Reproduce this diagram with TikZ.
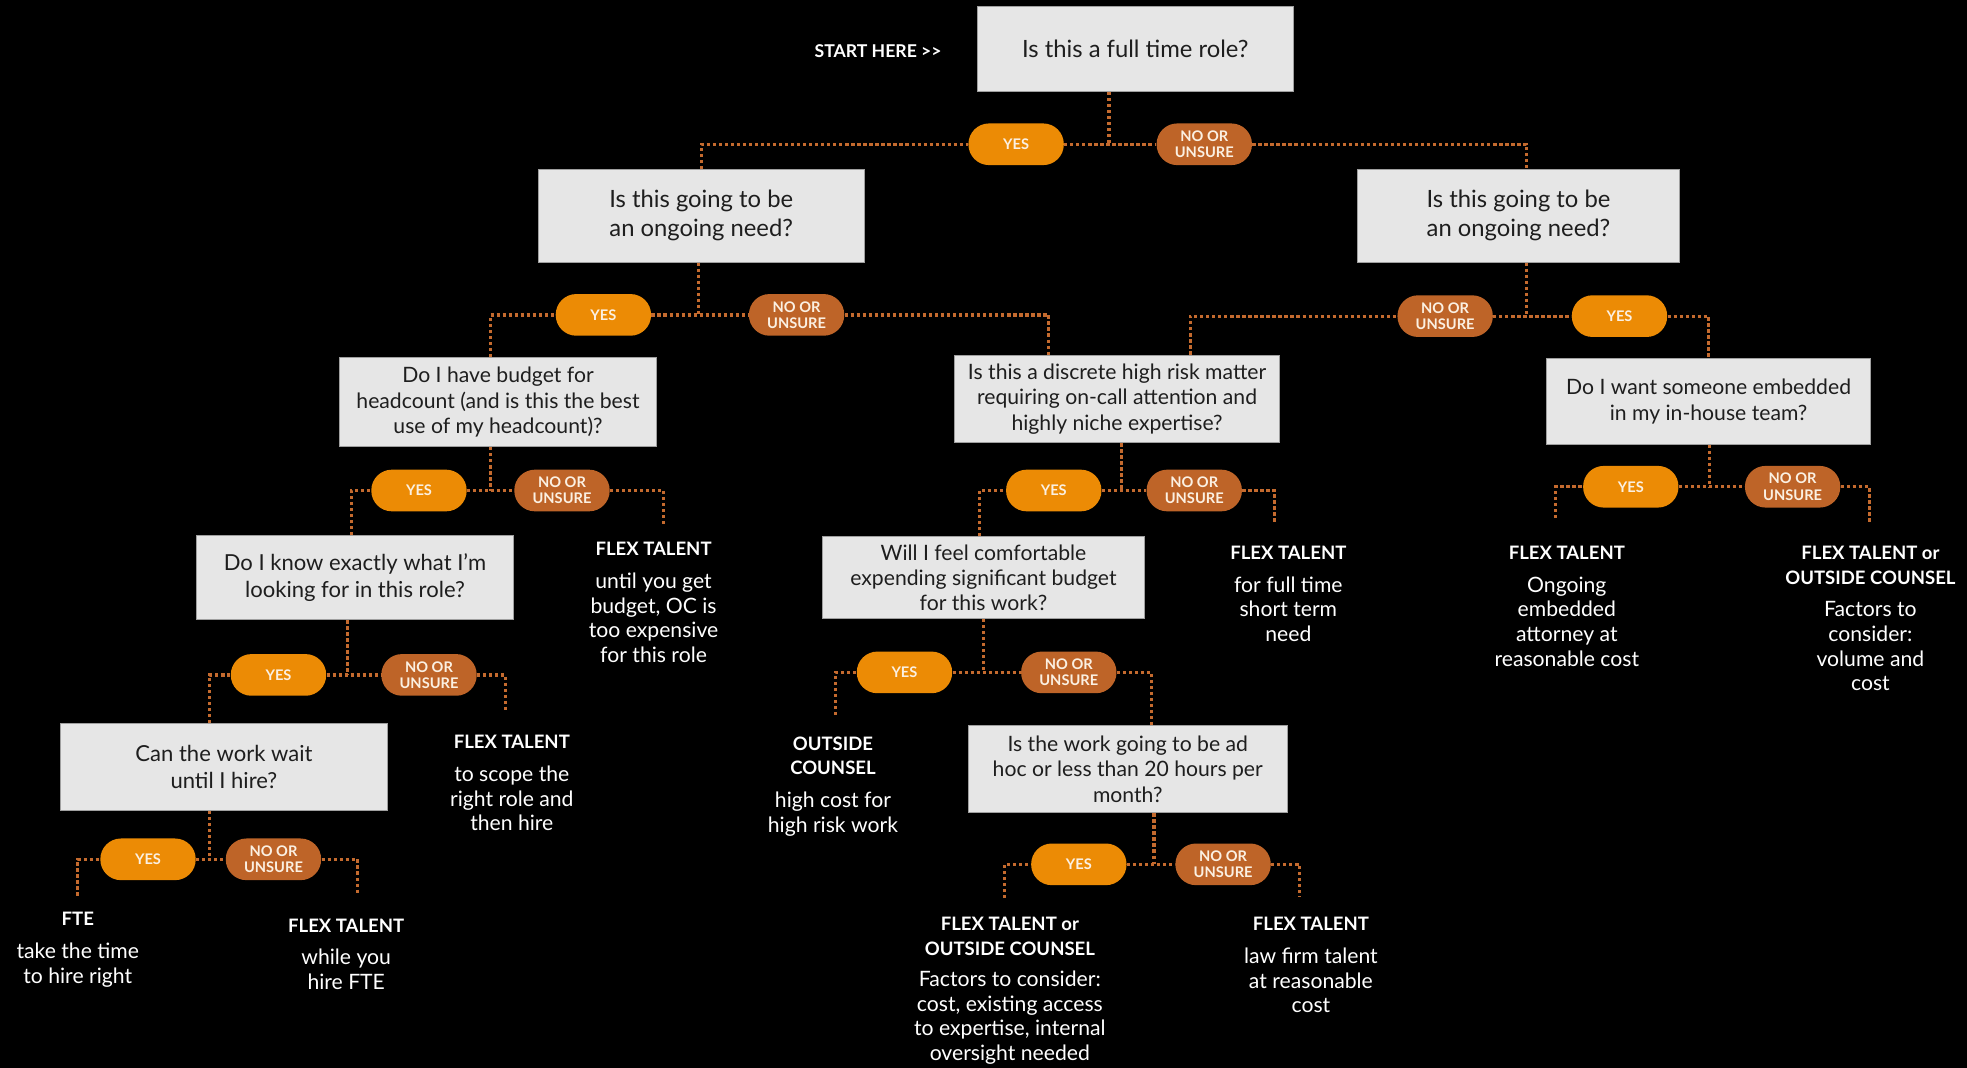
\documentclass[tikz,border=0pt]{standalone}
\usepackage{fontspec}
\setmainfont{Lato}
\usepackage{tikz}
\usetikzlibrary{positioning, calc}

\definecolor{yesorange}{HTML}{EC8B05}
\definecolor{nobrown}{HTML}{BE6428}
\definecolor{dotline}{HTML}{C46A2E}
\definecolor{boxgray}{HTML}{E6E6E6}
\definecolor{boxtext}{HTML}{1E1E1E}
\definecolor{pilltext}{HTML}{FBF0E2}

\newcommand{\hd}[1]{{\bfseries\fontsize{10.5}{14}\selectfont #1}}

\tikzset{
	question/.style={draw=gray!75, line width=0.5pt, fill=boxgray, text=boxtext, align=center, inner sep=0pt, font=\fontsize{12}{14.4}\selectfont},
	qbig/.style={question, font=\fontsize{13.5}{16.4}\selectfont},
	yespill/.style={fill=yesorange, rounded corners=0.41cm, minimum width=1.9cm, minimum height=0.83cm, inner sep=0pt, text=pilltext, align=center, font=\bfseries\fontsize{8.3}{9.2}\selectfont},
	nopill/.style={yespill, fill=nobrown},
	link/.style={dotline, line width=0.065cm, dash pattern=on 0.065cm off 0.055cm},
	outcome/.style={text=white, align=center, inner sep=0pt, anchor=north, font=\fontsize{12}{14}\selectfont}
}

\begin{document}
\begin{tikzpicture}[x=0.025cm, y=-0.025cm]
	\fill[black] (0,0) rectangle (1568,851);
	\useasboundingbox (0,0) rectangle (1568,851);

	\node[text=white, font=\bfseries\fontsize{10}{12}\selectfont] (start) at (700,41) {START HERE >{}>};

	% questions
	\node[qbig, minimum width=6.3cm, minimum height=1.7cm] (q1) at (905,39) {Is this a full time role?};
	\node[qbig, minimum width=6.5cm, minimum height=1.85cm] (q2a) at (559,172) {Is this going to be\\an ongoing need?};
	\node[qbig, minimum width=6.43cm, minimum height=1.85cm] (q2b) at (1210.5,172) {Is this going to be\\an ongoing need?};
	\node[question, minimum width=6.3cm, minimum height=1.78cm] (q3a) at (397,320.5) {Do I have budget for\\headcount (and is this the best\\use of my headcount)?};
	\node[question, minimum width=6.48cm, minimum height=1.75cm] (q3b) at (890.5,318) {Is this a discrete high risk matter\\requiring on-call attention and\\highly niche expertise?};
	\node[question, minimum width=6.45cm, minimum height=1.7cm] (q3c) at (1362,320) {Do I want someone embedded\\in my in-house team?};
	\node[question, font=\fontsize{12.5}{15}\selectfont, minimum width=6.3cm, minimum height=1.68cm] (q4a) at (283,460.5) {Do I know exactly what I'm\\looking for in this role?};
	\node[question, minimum width=6.4cm, minimum height=1.63cm] (q4b) at (784,460.5) {Will I feel comfortable\\expending significant budget\\for this work?};
	\node[question, font=\fontsize{12.5}{15}\selectfont, minimum width=6.53cm, minimum height=1.73cm] (q5a) at (178.5,611.5) {Can the work wait\\until I hire?};
	\node[question, minimum width=6.35cm, minimum height=1.75cm] (q5b) at (899,613) {Is the work going to be ad\\hoc or less than 20 hours per\\month?};

	% answer pills
	\node[yespill] (y1) at (810,115) {YES};
	\node[nopill] (n1) at (960,115) {NO OR\\UNSURE};
	\node[yespill] (y2a) at (481,251) {YES};
	\node[nopill] (n2a) at (635,251) {NO OR\\UNSURE};
	\node[nopill] (n2b) at (1152,252) {NO OR\\UNSURE};
	\node[yespill] (y2b) at (1291,252) {YES};
	\node[yespill] (y3a) at (334,391) {YES};
	\node[nopill] (n3a) at (448,391) {NO OR\\UNSURE};
	\node[yespill] (y3b) at (840,391) {YES};
	\node[nopill] (n3b) at (952,391) {NO OR\\UNSURE};
	\node[yespill] (y3c) at (1300,388) {YES};
	\node[nopill] (n3c) at (1429,388) {NO OR\\UNSURE};
	\node[yespill] (y4a) at (222,538) {YES};
	\node[nopill] (n4a) at (342,538) {NO OR\\UNSURE};
	\node[yespill] (y4b) at (721,536) {YES};
	\node[nopill] (n4b) at (852,536) {NO OR\\UNSURE};
	\node[yespill] (y5a) at (118,685) {YES};
	\node[nopill] (n5a) at (218,685) {NO OR\\UNSURE};
	\node[yespill] (y5b) at (860,689) {YES};
	\node[nopill] (n5b) at (975,689) {NO OR\\UNSURE};

	% outcomes
	\node[outcome] (o1) at (521,432) {\hd{FLEX TALENT}\\[4.5pt]until you get\\budget, OC is\\too expensive\\for this role};
	\node[outcome] (o2) at (1027,435) {\hd{FLEX TALENT}\\[4.5pt]for full time\\short term\\need};
	\node[outcome] (o3) at (1249,435) {\hd{FLEX TALENT}\\[4.5pt]Ongoing\\embedded\\attorney at\\reasonable cost};
	\node[outcome] (o4) at (1491,435) {\hd{FLEX TALENT or}\\\hd{OUTSIDE COUNSEL}\\[4.5pt]Factors to\\consider:\\volume and\\cost};
	\node[outcome] (o5) at (408,586) {\hd{FLEX TALENT}\\[4.5pt]to scope the\\right role and\\then hire};
	\node[outcome] (o6) at (664,587) {\hd{OUTSIDE}\\\hd{COUNSEL}\\[4.5pt]high cost for\\high risk work};
	\node[outcome] (o7) at (62,727) {\hd{FTE}\\[4.5pt]take the time\\to hire right};
	\node[outcome] (o8) at (276,732) {\hd{FLEX TALENT}\\[4.5pt]while you\\hire FTE};
	\node[outcome] (o9) at (805,731) {\hd{FLEX TALENT or}\\\hd{OUTSIDE COUNSEL}\\[3.5pt]Factors to consider:\\cost, existing access\\to expertise, internal\\oversight needed};
	\node[outcome] (o10) at (1045,731) {\hd{FLEX TALENT}\\[4.5pt]law firm talent\\at reasonable\\cost};

	% junctions and loose ends
	\coordinate (j1) at (884,115);
	\coordinate (j2a) at (557,251);
	\coordinate (j2b) at (1217,252);
	\coordinate (j3a) at (391,391);
	\coordinate (j3b) at (894,391);
	\coordinate (j3c) at (1363,388);
	\coordinate (j4a) at (277,538);
	\coordinate (j4b) at (784,536);
	\coordinate (j5a) at (167,685);
	\coordinate (j5b) at (920,689);
	\coordinate (e3a) at (529,418);
	\coordinate (e3b) at (1016,418);
	\coordinate (e3c) at (1240,413);
	\coordinate (e3d) at (1490,416);
	\coordinate (e4a) at (403,566);
	\coordinate (e4b) at (666,570);
	\coordinate (e5a) at (62,714);
	\coordinate (e5b) at (285,713);
	\coordinate (e5c) at (801,716);
	\coordinate (e5d) at (1036,715);

	% connectors
	\draw[link] (j1 |- q1.south) -- (j1);
	\draw[link] (q2a.north) |- (y1.west);
	\draw[link] (y1.east) -- (n1.west);
	\draw[link] (n1.east) -| ([xshift=0.16cm]q2b.north);

	\draw[link] (j2a |- q2a.south) -- (j2a);
	\draw[link] ([xshift=-0.15cm]q3a.north) |- (y2a.west);
	\draw[link] (y2a.east) -- (n2a.west);
	\draw[link] (n2a.east) -| ([xshift=-1.36cm]q3b.north);

	\draw[link] (j2b |- q2b.south) -- (j2b);
	\draw[link] ([xshift=1.46cm]q3b.north) |- (n2b.west);
	\draw[link] (n2b.east) -- (y2b.west);
	\draw[link] (y2b.east) -| (q3c.north);

	\draw[link] (j3a |- q3a.south) -- (j3a);
	\draw[link] ([xshift=-0.075cm]q4a.north) |- (y3a.west);
	\draw[link] (y3a.east) -- (n3a.west);
	\draw[link] (n3a.east) -| (e3a);

	\draw[link] (j3b |- q3b.south) -- (j3b);
	\draw[link] ([xshift=-0.075cm]q4b.north) |- (y3b.west);
	\draw[link] (y3b.east) -- (n3b.west);
	\draw[link] (n3b.east) -| (e3b);

	\draw[link] (j3c |- q3c.south) -- (j3c);
	\draw[link] (e3c) |- (y3c.west);
	\draw[link] (y3c.east) -- (n3c.west);
	\draw[link] (n3c.east) -| (e3d);

	\draw[link] (j4a |- q4a.south) -- (j4a);
	\draw[link] ([xshift=-0.29cm]q5a.north) |- (y4a.west);
	\draw[link] (y4a.east) -- (n4a.west);
	\draw[link] (n4a.east) -| (e4a);

	\draw[link] (j4b |- q4b.south) -- (j4b);
	\draw[link] (e4b) |- (y4b.west);
	\draw[link] (y4b.east) -- (n4b.west);
	\draw[link] (n4b.east) -| ([xshift=0.475cm]q5b.north);

	\draw[link] (j5a |- q5a.south) -- (j5a);
	\draw[link] (e5a) |- (y5a.west);
	\draw[link] (y5a.east) -- (n5a.west);
	\draw[link] (n5a.east) -| (e5b);

	\draw[link] (j5b |- q5b.south) -- (j5b);
	\draw[link] (e5c) |- (y5b.west);
	\draw[link] (y5b.east) -- (n5b.west);
	\draw[link] (n5b.east) -| (e5d);
\end{tikzpicture}
\end{document}
